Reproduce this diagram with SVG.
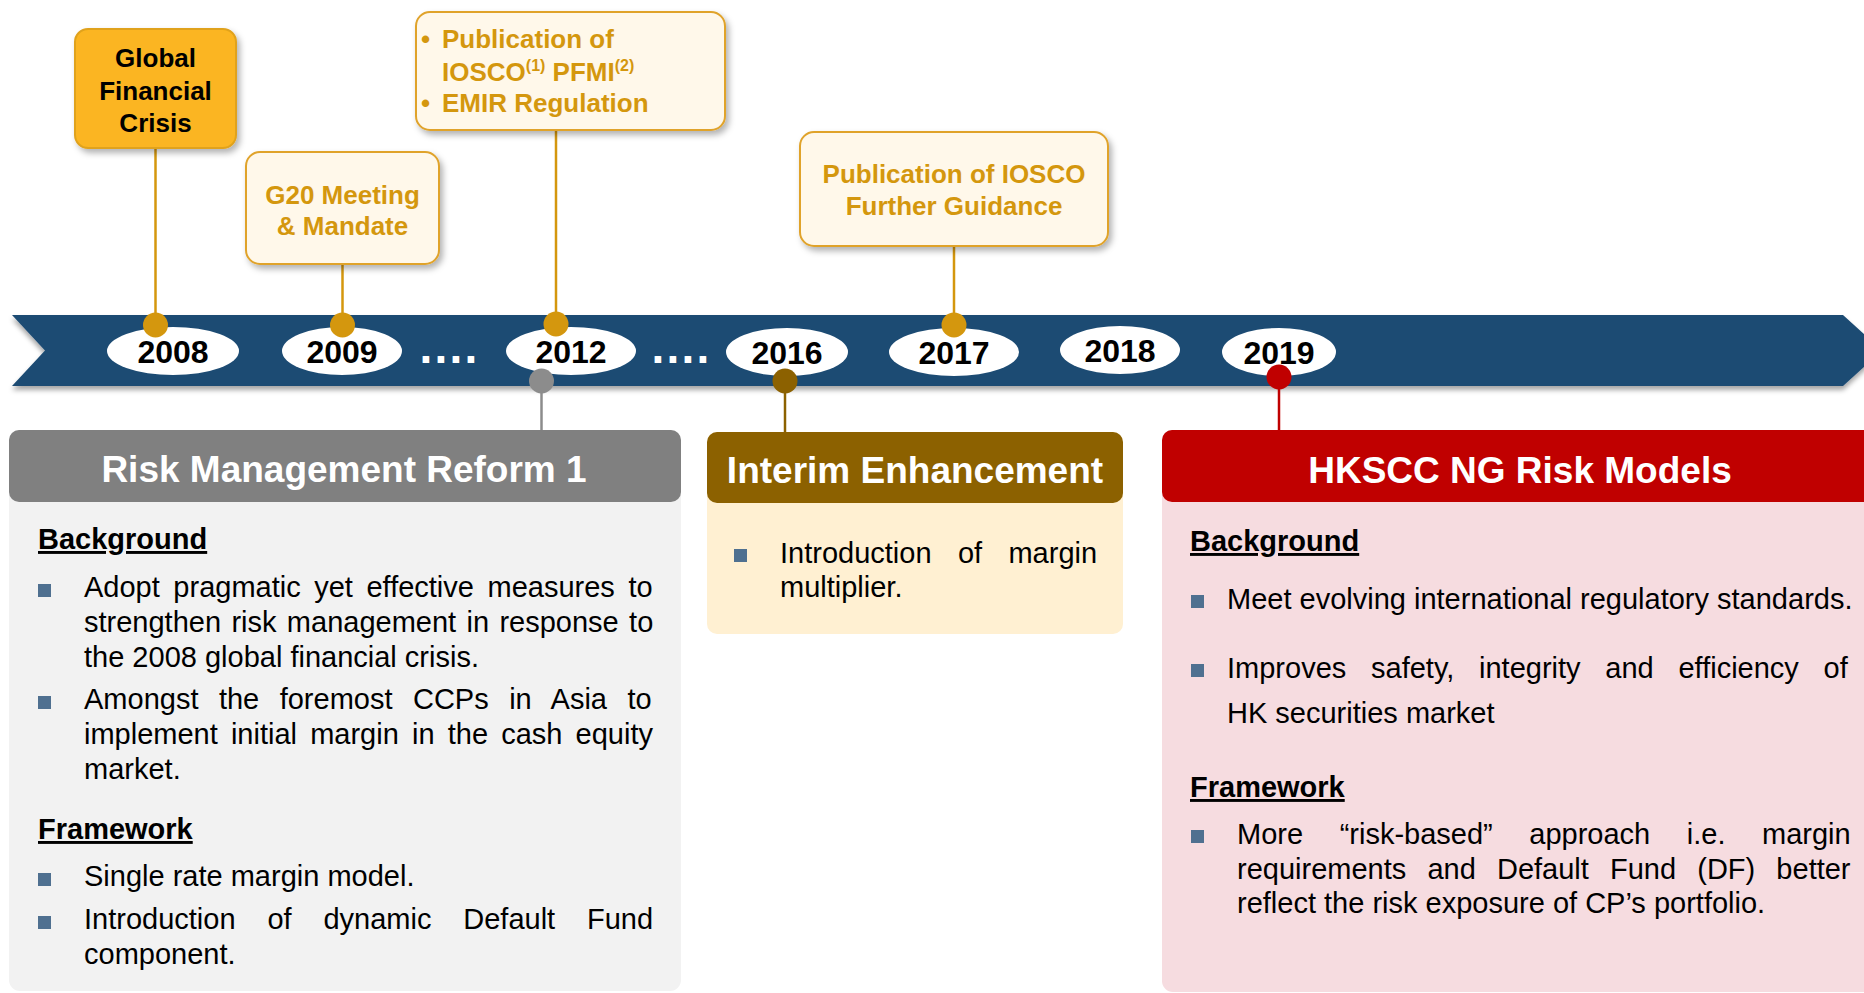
<svg xmlns="http://www.w3.org/2000/svg" width="1864" height="993" viewBox="0 0 1864 993">
<defs>
<filter id="sh" x="-20%" y="-20%" width="140%" height="150%">
<feDropShadow dx="3" dy="4" stdDeviation="3" flood-color="#000" flood-opacity="0.3"/>
</filter>
<filter id="bandsh" x="-5%" y="-20%" width="110%" height="160%">
<feDropShadow dx="0" dy="4" stdDeviation="2.5" flood-color="#000" flood-opacity="0.35"/>
</filter>
<style>
text{font-family:"Liberation Sans",Arial,sans-serif;}
.yr{font-size:32px;font-weight:bold;fill:#000;text-anchor:middle;}
.yell{fill:#fff;}
.call{fill:#FFF8EA;stroke:#E0A32C;stroke-width:2;}
.ct{font-size:26px;font-weight:bold;fill:#D4970E;}
.gl{stroke:#D4970E;stroke-width:2.5;fill:none;}
.gd{fill:#D4970E;}
.ht{font-size:37px;font-weight:bold;fill:#fff;text-anchor:middle;}
.sub{font-size:29px;font-weight:bold;fill:#000;text-decoration:underline;}
.bt{font-size:29px;fill:#000;}
.bul{fill:#4F7090;}
.dots{font-size:46px;font-weight:bold;fill:#fff;letter-spacing:2.2px;}
</style>
</defs>

<g id="timeline">
<polygon points="12,315 1843,315 1882,350.5 1843,386 12,386 45,350.5" fill="#1C4B73" filter="url(#bandsh)"/>
<text class="dots" x="419.6" y="363">....</text>
<text class="dots" x="651.6" y="363">....</text>
</g>

<g id="connectors">
<line class="gl" x1="155.5" y1="148" x2="155.5" y2="325"/>
<line class="gl" x1="342.5" y1="264" x2="342.5" y2="325"/>
<line class="gl" x1="556" y1="130" x2="556" y2="324"/>
<line class="gl" x1="954" y1="246" x2="954" y2="325"/>
<line x1="541.5" y1="381" x2="541.5" y2="431" stroke="#8C8C8C" stroke-width="2.5"/>
<line x1="785" y1="381" x2="785" y2="433" stroke="#8C6100" stroke-width="2.5"/>
<line x1="1279" y1="377" x2="1279" y2="431" stroke="#C00000" stroke-width="2.5"/>
</g>

<g id="year-2008"><ellipse class="yell" cx="173" cy="351" rx="66" ry="24"/><text class="yr" x="173" y="363">2008</text></g>
<g id="year-2009"><ellipse class="yell" cx="342" cy="351" rx="60" ry="24"/><text class="yr" x="342" y="363">2009</text></g>
<g id="year-2012"><ellipse class="yell" cx="571" cy="351" rx="65" ry="24"/><text class="yr" x="571" y="363">2012</text></g>
<g id="year-2016"><ellipse class="yell" cx="787" cy="352" rx="61" ry="24"/><text class="yr" x="787" y="364">2016</text></g>
<g id="year-2017"><ellipse class="yell" cx="954" cy="352" rx="65" ry="24"/><text class="yr" x="954" y="364">2017</text></g>
<g id="year-2018"><ellipse class="yell" cx="1120" cy="350" rx="60" ry="24"/><text class="yr" x="1120" y="362">2018</text></g>
<g id="year-2019"><ellipse class="yell" cx="1279" cy="352" rx="57" ry="24"/><text class="yr" x="1279" y="364">2019</text></g>

<g id="markers">
<circle class="gd" cx="155.5" cy="325" r="12.5"/>
<circle class="gd" cx="342.5" cy="325" r="12.5"/>
<circle class="gd" cx="556" cy="324" r="12.5"/>
<circle class="gd" cx="954" cy="325" r="12.5"/>
<circle fill="#8C8C8C" cx="541.5" cy="381" r="12.5"/>
<circle fill="#8C6100" cx="785" cy="381" r="12.5"/>
<circle fill="#C00000" cx="1279" cy="377" r="12.5"/>
</g>

<g id="node-crisis">
<rect x="75" y="29" width="161" height="119" rx="13" fill="#FBB520" stroke="#E0A21E" stroke-width="2" filter="url(#sh)"/>
<text font-size="26" font-weight="bold" fill="#000" text-anchor="middle"><tspan x="155.5" y="67">Global</tspan><tspan x="155.5" y="100">Financial</tspan><tspan x="155.5" y="132">Crisis</tspan></text>
</g>

<g id="node-g20">
<rect class="call" x="246" y="152" width="193" height="112" rx="14" filter="url(#sh)"/>
<text class="ct" text-anchor="middle"><tspan x="342.5" y="204">G20 Meeting</tspan><tspan x="342.5" y="235">&amp; Mandate</tspan></text>
</g>

<g id="node-iosco">
<rect class="call" x="416" y="12" width="309" height="118" rx="14" filter="url(#sh)"/>
<text class="ct" x="421" y="48">•</text>
<text class="ct" x="442" y="48">Publication of</text>
<text class="ct" x="442" y="81">IOSCO<tspan font-size="16" dy="-10">(1)</tspan><tspan dy="10"> PFMI</tspan><tspan font-size="16" dy="-10">(2)</tspan></text>
<text class="ct" x="421" y="112">•</text>
<text class="ct" x="442" y="112">EMIR Regulation</text>
</g>

<g id="node-guidance">
<rect class="call" x="800" y="132" width="308" height="114" rx="14" filter="url(#sh)"/>
<text class="ct" text-anchor="middle"><tspan x="954" y="183">Publication of IOSCO</tspan><tspan x="954" y="215">Further Guidance</tspan></text>
</g>

<g id="panel-reform">
<rect x="9" y="430" width="672" height="561" rx="11" fill="#F2F2F2"/>
<rect x="9" y="430" width="672" height="72" rx="10" fill="#808080"/>
<text class="ht" x="344" y="482">Risk Management Reform 1</text>
<text class="sub" x="38" y="549">Background</text>
<rect class="bul" x="38" y="584" width="13" height="13"/>
<text class="bt" x="84" y="597" word-spacing="5.5">Adopt pragmatic yet effective measures to</text>
<text class="bt" x="84" y="632" word-spacing="2.3">strengthen risk management in response to</text>
<text class="bt" x="84" y="667">the 2008 global financial crisis.</text>
<rect class="bul" x="38" y="696" width="13" height="13"/>
<text class="bt" x="84" y="709" word-spacing="12.4">Amongst the foremost CCPs in Asia to</text>
<text class="bt" x="84" y="744" word-spacing="5.1">implement initial margin in the cash equity</text>
<text class="bt" x="84" y="779">market.</text>
<text class="sub" x="38" y="839">Framework</text>
<rect class="bul" x="38" y="873" width="13" height="13"/>
<text class="bt" x="84" y="886">Single rate margin model.</text>
<rect class="bul" x="38" y="916" width="13" height="13"/>
<text class="bt" x="84" y="929" word-spacing="23.8">Introduction of dynamic Default Fund</text>
<text class="bt" x="84" y="964">component.</text>
</g>

<g id="panel-interim">
<rect x="707" y="432" width="416" height="202" rx="10" fill="#FFF0D2"/>
<rect x="707" y="432" width="416" height="71" rx="10" fill="#8C6100"/>
<text class="ht" x="915" y="483">Interim Enhancement</text>
<rect class="bul" x="734" y="549" width="13" height="13"/>
<text class="bt" x="780" y="563" word-spacing="18.3">Introduction of margin</text>
<text class="bt" x="780" y="597">multiplier.</text>
</g>

<g id="panel-hkscc">
<rect x="1162" y="430" width="720" height="562" rx="11" fill="#F6DCE0"/>
<rect x="1162" y="430" width="720" height="72" rx="10" fill="#C00000"/>
<text class="ht" x="1520" y="483">HKSCC NG Risk Models</text>
<text class="sub" x="1190" y="551">Background</text>
<rect class="bul" x="1191" y="595" width="13" height="13"/>
<text class="bt" x="1227" y="609">Meet evolving international regulatory standards.</text>
<rect class="bul" x="1191" y="664" width="13" height="13"/>
<text class="bt" x="1227" y="678" word-spacing="16.7">Improves safety, integrity and efficiency of</text>
<text class="bt" x="1227" y="723">HK securities market</text>
<text class="sub" x="1190" y="797">Framework</text>
<rect class="bul" x="1191" y="830" width="13" height="13"/>
<text class="bt" x="1237" y="844" word-spacing="28.5">More “risk-based” approach i.e. margin</text>
<text class="bt" x="1237" y="879" word-spacing="13.1">requirements and Default Fund (DF) better</text>
<text class="bt" x="1237" y="913">reflect the risk exposure of CP’s portfolio.</text>
</g>
</svg>
